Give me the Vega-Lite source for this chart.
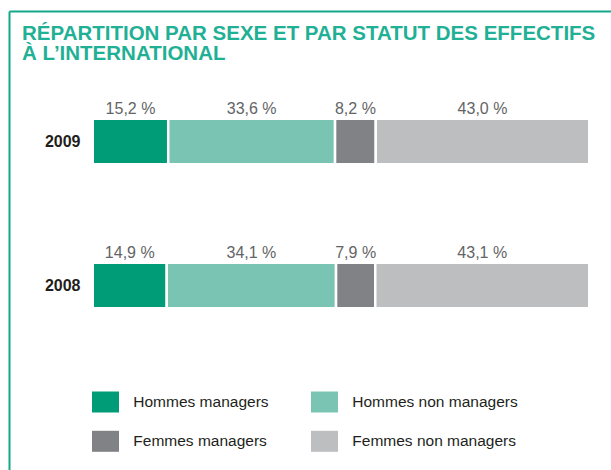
{
  "$schema": "https://vega.github.io/schema/vega-lite/v6.json",
  "width": 602,
  "height": 459,
  "autosize": {"type": "none"},
  "padding": {"left": 9, "top": 11, "right": 0, "bottom": 0},
  "background": "white",
  "title": {
    "text": ["RÉPARTITION PAR SEXE ET PAR STATUT DES EFFECTIFS", "À L’INTERNATIONAL"],
    "anchor": "start",
    "frame": "group",
    "orient": "top",
    "offset": 0,
    "dx": 13,
    "dy": 69,
    "baseline": "alphabetic",
    "font": "Liberation Sans",
    "fontWeight": "bold",
    "fontSize": 20.5,
    "lineHeight": 20,
    "color": "#1fb095"
  },
  "data": {
    "values": [
      {"year": "2009", "category": "Hommes managers", "order": 1, "value": 15.2, "label": "15,2 %"},
      {"year": "2009", "category": "Hommes non managers", "order": 2, "value": 33.6, "label": "33,6 %"},
      {"year": "2009", "category": "Femmes managers", "order": 3, "value": 8.2, "label": "8,2 %"},
      {"year": "2009", "category": "Femmes non managers", "order": 4, "value": 43.0, "label": "43,0 %"},
      {"year": "2008", "category": "Hommes managers", "order": 1, "value": 14.9, "label": "14,9 %"},
      {"year": "2008", "category": "Hommes non managers", "order": 2, "value": 34.1, "label": "34,1 %"},
      {"year": "2008", "category": "Femmes managers", "order": 3, "value": 7.9, "label": "7,9 %"},
      {"year": "2008", "category": "Femmes non managers", "order": 4, "value": 43.1, "label": "43,1 %"}
    ]
  },
  "transform": [
    {"stack": "value", "groupby": ["year"], "sort": [{"field": "order", "order": "ascending"}], "as": ["v0", "v1"]},
    {"calculate": "(datum.v0 + datum.v1) / 2", "as": "mid"}
  ],
  "encoding": {
    "y": {
      "field": "year",
      "type": "nominal",
      "sort": ["2009", "2008"],
      "scale": {"paddingInner": 0.684, "paddingOuter": 0.93575, "align": 0.4},
      "axis": {
        "title": null,
        "orient": "left",
        "domain": true,
        "domainColor": "#13a88a",
        "domainWidth": 2,
        "ticks": false,
        "tickSize": 0,
        "grid": false,
        "labelAlign": "right",
        "labelBaseline": "middle",
        "labelPadding": -71,
        "labelFont": "Liberation Sans",
        "labelFontWeight": "bold",
        "labelFontSize": 16,
        "labelColor": "#231f20",
        "labelOverlap": false,
        "labelBound": false
      }
    }
  },
  "layer": [
    {
      "mark": {"type": "bar", "stroke": "white", "strokeWidth": 2.5},
      "encoding": {
        "x": {
          "field": "v0",
          "type": "quantitative",
          "scale": {"domain": [-16.87, 104.38], "nice": false, "zero": false},
          "axis": {
            "orient": "top",
            "title": null,
            "labels": false,
            "ticks": false,
            "grid": false,
            "domain": true,
            "domainColor": "#13a88a",
            "domainWidth": 2
          }
        },
        "x2": {"field": "v1"},
        "color": {
          "field": "category",
          "type": "nominal",
          "scale": {
            "domain": ["Hommes managers", "Hommes non managers", "Femmes managers", "Femmes non managers"],
            "range": ["#009b77", "#79c4b3", "#808285", "#bcbec0"]
          },
          "legend": {
            "title": null,
            "orient": "none",
            "legendX": 86,
            "legendY": 380.5,
            "columns": 2,
            "direction": "horizontal",
            "padding": 0,
            "symbolType": "M-1.286,-1H1.286V1H-1.286Z",
            "symbolSize": 441,
            "symbolStrokeWidth": 0,
            "symbolOpacity": 1,
            "labelFont": "Liberation Sans",
            "labelFontSize": 15.5,
            "labelColor": "#231f20",
            "labelOffset": 17.3,
            "labelLimit": 300,
            "columnPadding": 41,
            "rowPadding": 18.3
          }
        }
      }
    },
    {
      "mark": {
        "type": "text",
        "font": "Liberation Sans",
        "fontSize": 16,
        "color": "#636466",
        "baseline": "alphabetic",
        "align": "center",
        "dy": -28
      },
      "encoding": {
        "x": {"field": "mid", "type": "quantitative"},
        "text": {"field": "label"}
      }
    }
  ],
  "config": {
    "view": {"stroke": null}
  }
}
